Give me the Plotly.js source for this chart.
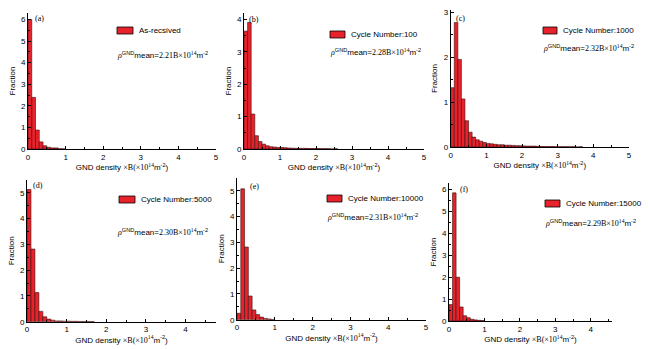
<!DOCTYPE html>
<html><head><meta charset="utf-8">
<script src="https://cdn.plot.ly/plotly-3.0.1.min.js"></script>
<style>html,body{margin:0;padding:0;background:#fff}#plot{width:650px;height:349px}</style>
</head><body><div id="plot"></div>
<script>
const binCenters = [0.05,0.15,0.25,0.35,0.45,0.55,0.65,0.75,0.85,0.95,1.05,1.15,1.25,1.35,1.45,1.55,1.65,1.75,1.85,1.95,2.05,2.15,2.25,2.35,2.45,2.55,2.65,2.75,2.85,2.95,3.05,3.15,3.25,3.35,3.45,3.55,3.65];
const fracA = [6.0,2.39,0.88,0.33,0.15,0.08,0.05,0.05,0.01,0.005];
const fracB = [3.64,3.91,1.08,0.41,0.23,0.15,0.10,0.07,0.06,0.05,0.045,0.04,0.03,0.025,0.02,0.02,0.02,0.018,0.015,0.015,0.015,0.012,0.012,0.01,0,0.008];
const fracC = [1.32,2.77,1.95,1.07,0.585,0.33,0.22,0.16,0.13,0.10,0.08,0.07,0.06,0.05,0.05,0.04,0.04,0.035,0.03,0.03,0.025,0.02,0.02,0.02,0.015,0.01,0.01,0.01,0.01,0.008,0.008,0.006,0.006,0.005,0.005,0,0.004];
const fracD = [5.13,2.82,1.13,0.40,0.19,0.10,0.06,0.03,0.03,0.02,0.02,0.015,0.015,0.01,0.01,0.01,0.008];
const fracE = [0.25,5.08,2.82,0.92,0.38,0.20,0.10,0.05,0.03,0.01];
const fracF = [0.75,5.85,2.0,0.64,0.24,0.15,0.08,0.05,0.03,0.02];
const seriesNames = ["As-recsived","Cycle Number:100","Cycle Number:1000","Cycle Number:5000","Cycle Number:10000","Cycle Number:15000"];
const panelLabels = ["(a)","(b)","(c)","(d)","(e)","(f)"];
const meanValues = ["2.21","2.28","2.32","2.30","2.31","2.29"];
const yTop = [6.3,4.2,3.05,5.5,5.5,6.3];
const xTop = [5,5,5,4.77,5,4.6];

const allFrac = [fracA,fracB,fracC,fracD,fracE,fracF];
const boxes = [[28,216,13,149],[244,424,13,149],[450.7,629,10,147],[27,216,180,321.7],[237,426,178,319.7],[449,612,183,321]];
const swatch = [[117,133,27,34],[330,345,31,38],[543,557,27,34],[119,135,196,203],[327,342,195,202],[545,560,200,207]];
const rhoPos = [[115,55],[328,52],[541,48],[115,232],[325,217],[543,223]];
const labPos = [[33,18],[247,19],[454,18],[31,185],[248,186],[458,189]];
const W=650,H=349;
const font = {family:"Liberation Sans, Arial, sans-serif", size:8, color:"#000"};
const red = "#e8222b";

const data=[]; const layout={width:W,height:H,margin:{l:0,r:0,t:0,b:0},paper_bgcolor:"#fff",plot_bgcolor:"rgba(0,0,0,0)",font:font,bargap:0,showlegend:false,annotations:[],shapes:[]};
for(let i=0;i<6;i++){
  const s = i===0?"":String(i+1);
  const v = allFrac[i];
  data.push({type:"bar",x:binCenters.slice(0,v.length),y:v,width:0.1,name:seriesNames[i],
    xaxis:"x"+s,yaxis:"y"+s,
    marker:{color:red,line:{color:"#3a1010",width:0.6}}});
  const b=boxes[i];
  layout["xaxis"+s] = {domain:[b[0]/W,b[1]/W],range:[0,xTop[i]],showline:true,linecolor:"#000",linewidth:1,
    ticks:"inside",ticklen:3,tickcolor:"#000",dtick:1,tick0:0,showgrid:false,zeroline:false,
    tickfont:font,minor:{ticks:"inside",ticklen:2,dtick:0.5,tickcolor:"#000"},
    anchor:"y"+s,
    title:{text:"GND density <span style='font-family:Liberation Serif'>×B(×10<sup>14</sup></span>m<sup>-2</sup>)",font:font,standoff:2}};
  layout["yaxis"+s] = {domain:[1-b[3]/H,1-b[2]/H],range:[0,yTop[i]],showline:true,linecolor:"#000",linewidth:1,
    ticks:"inside",ticklen:3,tickcolor:"#000",dtick:1,tick0:0,showgrid:false,zeroline:false,
    tickfont:font,minor:{ticks:"inside",ticklen:2,dtick:0.5,tickcolor:"#000"},
    anchor:"x"+s,title:{text:"Fraction",font:font,standoff:4}};
  const sw=swatch[i];
  layout.shapes.push({type:"rect",xref:"paper",yref:"paper",x0:sw[0]/W,x1:sw[1]/W,y0:1-sw[3]/H,y1:1-sw[2]/H,
    fillcolor:red,line:{color:"#000",width:0.8}});
  layout.annotations.push({xref:"paper",yref:"paper",x:(sw[1]+4)/W,y:1-((sw[2]+sw[3])/2)/H,xanchor:"left",yanchor:"middle",showarrow:false,
    text:seriesNames[i],font:font});
  layout.annotations.push({xref:"paper",yref:"paper",x:rhoPos[i][0]/W,y:1-rhoPos[i][1]/H,xanchor:"left",yanchor:"middle",showarrow:false,
    text:"<i style='font-family:Liberation Serif'>ρ</i><sup>GND</sup>mean=<span style='font-family:Liberation Serif'>"+meanValues[i]+"B×10<sup>14</sup></span>m<sup>-2</sup>",font:font});
  layout.annotations.push({xref:"paper",yref:"paper",x:labPos[i][0]/W,y:1-labPos[i][1]/H,xanchor:"left",yanchor:"middle",showarrow:false,
    text:panelLabels[i],font:{family:"Liberation Serif, serif",size:8,color:"#000"}});
}
Plotly.newPlot("plot",data,layout,{staticPlot:true});
</script></body></html>
